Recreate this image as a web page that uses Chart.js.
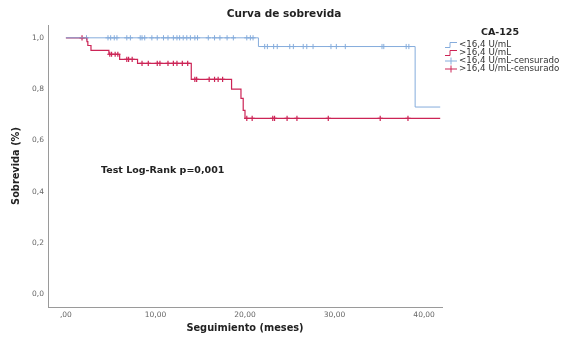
<!DOCTYPE html>
<html>
<head>
<meta charset="utf-8">
<script src="https://cdn.jsdelivr.net/npm/chart.js@4"></script>
<style>
  html, body { margin: 0; padding: 0; background: #fff; }
  #wrap { width: 570px; height: 344px; }
</style>
</head>
<body>
<div id="wrap"><canvas id="chart1" width="570" height="344"></canvas></div>
<script>
// Kaplan-Meier steps (months, survival)
const blueTimes = [0, 21.5, 39.0, 41.8];
const blueSurv  = [1.0, 0.966, 0.73, 0.73];
const redTimes  = [0, 2.35, 2.45, 2.8, 4.8, 6.0, 8.0, 14.0, 18.5, 19.55, 19.8, 20.0, 41.8];
const redSurv   = [1.0, 0.985, 0.97, 0.951, 0.936, 0.916, 0.90, 0.838, 0.80, 0.764, 0.717, 0.686, 0.686];

// censored observations (months)
const blueCensor = [2.3, 4.7, 5.0, 5.4, 5.7, 6.8, 7.2, 8.3, 8.5, 8.8, 9.6, 10.2, 10.9, 11.4, 12.0, 12.4, 12.7, 13.1,
  13.5, 13.9, 14.4, 14.7, 15.9, 16.6, 17.2, 18.0, 18.7, 20.2, 20.6, 20.9, 22.2, 22.5, 23.2, 23.6, 25.0, 25.4,
  26.5, 26.9, 27.6, 29.6, 30.2, 31.2, 35.3, 35.5, 38.0, 38.3];
const redCensor = [1.8, 4.9, 5.1, 5.5, 5.8, 6.8, 7.0, 7.4, 8.5, 9.2, 10.2, 10.5, 11.4, 12.0, 12.4, 13.0, 13.6,
  14.4, 14.6, 16.0, 16.6, 17.0, 17.5, 20.2, 20.8, 23.1, 23.3, 24.7, 25.8, 29.3, 35.1, 38.2];

const xTicks = [0, 10, 20, 30, 40];
const yTicks = [0, 0.2, 0.4, 0.6, 0.8, 1.0];
const seriesLabels = ['<16,4 U/mL', '>16,4 U/mL', '<16,4 U/mL-censurado', '>16,4 U/mL-censurado'];

const BLUE = '#85acdc';
const RED = '#cc2456';
const FONT = 'DejaVu Sans';

function survAt(times, surv, t) {
  let s = surv[0];
  for (let i = 0; i < times.length; i++) {
    if (times[i] <= t) s = surv[i];
  }
  return s;
}

const toPts = (xs, ys) => xs.map((x, i) => ({ x: x, y: ys[i] }));
const censorPts = (cs, times, surv) => cs.map(t => ({ x: t, y: survAt(times, surv, t) }));

// title, log-rank note and legend
const extras = {
  id: 'extras',
  afterDraw(chart) {
    const ctx = chart.ctx;
    ctx.save();
    ctx.fillStyle = '#222';
    ctx.textBaseline = 'middle';
    ctx.textAlign = 'center';
    ctx.font = 'bold 10.5px "' + FONT + '"';
    ctx.fillText('Curva de sobrevida', 284, 14);

    ctx.textAlign = 'left';
    ctx.font = 'bold 9.5px "' + FONT + '"';
    ctx.fillText('Test Log-Rank p=0,001', 101, 171);

    ctx.textAlign = 'center';
    ctx.font = 'bold 9.5px "' + FONT + '"';
    ctx.fillText('CA-125', 500, 33);

    ctx.textAlign = 'left';
    ctx.font = '8.7px "' + FONT + '"';
    const cols = [BLUE, RED, BLUE, RED];
    for (let i = 0; i < seriesLabels.length; i++) {
      const y = 45 + i * 8;
      ctx.strokeStyle = cols[i];
      ctx.lineWidth = 1;
      ctx.beginPath();
      if (i < 2) {
        ctx.moveTo(445, y + 2.5);
        ctx.lineTo(450, y + 2.5);
        ctx.lineTo(450, y - 2.5);
        ctx.lineTo(457, y - 2.5);
      } else {
        ctx.moveTo(445, y);
        ctx.lineTo(457, y);
        ctx.moveTo(451, y - 3.5);
        ctx.lineTo(451, y + 3.5);
      }
      ctx.stroke();
      ctx.fillStyle = '#333';
      ctx.fillText(seriesLabels[i], 459, y);
    }
    ctx.restore();
  }
};

const ctx1 = document.getElementById('chart1').getContext('2d');
const chart1 = new Chart(ctx1, {
  type: 'line',
  data: {
    datasets: [
      {
        label: seriesLabels[0],
        data: toPts(blueTimes, blueSurv),
        borderColor: BLUE,
        borderWidth: 1,
        stepped: 'before',
        pointRadius: 0,
        fill: false
      },
      {
        label: seriesLabels[1],
        data: toPts(redTimes, redSurv),
        borderColor: RED,
        borderWidth: 1.2,
        stepped: 'before',
        pointRadius: 0,
        fill: false
      },
      {
        label: seriesLabels[2],
        data: censorPts(blueCensor, blueTimes, blueSurv),
        showLine: false,
        pointStyle: 'cross',
        pointRadius: 2.6,
        pointBorderWidth: 1,
        borderColor: BLUE,
        pointBorderColor: BLUE
      },
      {
        label: seriesLabels[3],
        data: censorPts(redCensor, redTimes, redSurv),
        showLine: false,
        pointStyle: 'cross',
        pointRadius: 2.6,
        pointBorderWidth: 1.2,
        borderColor: RED,
        pointBorderColor: RED
      }
    ]
  },
  options: {
    responsive: false,
    animation: false,
    layout: { padding: { left: 0, right: 128, top: 25, bottom: 0 } },
    plugins: {
      legend: { display: false },
      tooltip: { enabled: false },
      title: { display: false }
    },
    scales: {
      x: {
        type: 'linear',
        min: -2,
        max: 42,
        afterFit: s => { s.height = 37; },
        afterBuildTicks: s => { s.ticks = xTicks.map(v => ({ value: v })); },
        grid: { display: false, drawTicks: false },
        border: { display: true, color: '#9a9a9a', width: 1 },
        ticks: {
          padding: 4,
          color: '#666',
          font: { family: FONT, size: 7.5 },
          maxRotation: 0,
          callback: v => v === 0 ? ',00' : v.toFixed(2).replace('.', ',')
        },
        title: {
          display: true,
          text: 'Seguimiento (meses)',
          color: '#222',
          font: { family: FONT, size: 9.8, weight: 'bold' },
          padding: { top: 0, bottom: 10 }
        }
      },
      y: {
        type: 'linear',
        min: -0.05,
        max: 1.05,
        afterFit: s => { s.width = 48; },
        afterBuildTicks: s => { s.ticks = yTicks.map(v => ({ value: v })); },
        grid: { display: false, drawTicks: false },
        border: { display: true, color: '#9a9a9a', width: 1 },
        ticks: {
          padding: 4,
          color: '#666',
          font: { family: FONT, size: 7.5 },
          callback: v => v.toFixed(1).replace('.', ',')
        },
        title: {
          display: true,
          text: 'Sobrevida (%)',
          color: '#222',
          font: { family: FONT, size: 9.8, weight: 'bold' },
          padding: { top: 11, bottom: 0 }
        }
      }
    }
  },
  plugins: [extras]
});
</script>
</body>
</html>
